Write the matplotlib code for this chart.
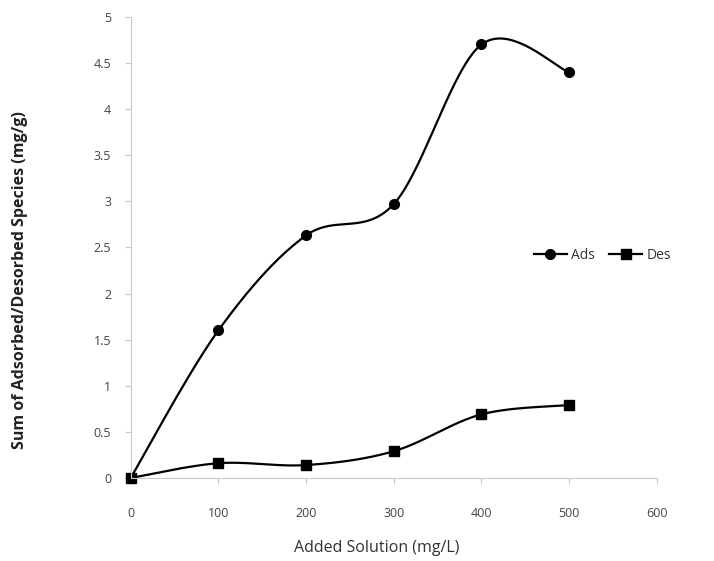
import matplotlib.pyplot as plt
import numpy as np

plt.rcParams['font.family'] = ['Open Sans', 'DejaVu Sans']

# data
added = [0, 100, 200, 300, 400, 500]
ads = [0, 1.6, 2.63, 2.97, 4.7, 4.4]
des = [0, 0.16, 0.14, 0.29, 0.69, 0.79]

x_ticks = [0, 100, 200, 300, 400, 500, 600]
y_ticks = [0, 0.5, 1, 1.5, 2, 2.5, 3, 3.5, 4, 4.5, 5]
y_tick_labels = ['0', '0.5', '1', '1.5', '2', '2.5', '3', '3.5', '4', '4.5', '5']


def smooth(xs, ys, steps=40):
    # Excel-like smoothed line: cubic bezier segments with catmull-rom tangents
    p = np.column_stack([xs, ys]).astype(float)
    out = [p[0]]
    t = np.linspace(0, 1, steps)[1:, None]
    for i in range(len(p) - 1):
        p0 = p[max(i - 1, 0)]
        p1 = p[i]
        p2 = p[i + 1]
        p3 = p[min(i + 2, len(p) - 1)]
        c1 = p1 + (p2 - p0) / 6
        c2 = p2 - (p3 - p1) / 6
        seg = ((1 - t) ** 3) * p1 + 3 * ((1 - t) ** 2) * t * c1 \
            + 3 * (1 - t) * t ** 2 * c2 + t ** 3 * p2
        out.extend(seg)
    out = np.array(out)
    return out[:, 0], out[:, 1]


fig = plt.figure(figsize=(7.14, 5.61), dpi=100)
ax = fig.add_axes([0.183, 0.148, 0.737, 0.822])

sx, sy = smooth(added, ads)
ax.plot(sx, sy, color='black', lw=1.6)
ax.plot(added, ads, 'o', color='black', ms=7)
sx, sy = smooth(added, des)
ax.plot(sx, sy, color='black', lw=1.6)
ax.plot(added, des, 's', color='black', ms=7)

# legend handles
ax.plot([], [], '-o', color='black', lw=1.6, ms=7, label='Ads')
ax.plot([], [], '-s', color='black', lw=1.6, ms=7, label='Des')
ax.legend(loc='center left', bbox_to_anchor=(0.73, 0.545), bbox_transform=fig.transFigure,
          ncol=2, frameon=False, fontsize=10, handlelength=2.4, handletextpad=0.3,
          columnspacing=1.0, labelcolor='#333333')

ax.set_xlim(0, 600)
ax.set_ylim(0, 5)
ax.set_xticks(x_ticks)
ax.set_yticks(y_ticks)
ax.set_yticklabels(y_tick_labels)
ax.spines['top'].set_visible(False)
ax.spines['right'].set_visible(False)
ax.spines['left'].set_color('#c8c8c8')
ax.spines['bottom'].set_color('#c8c8c8')
ax.tick_params(colors='#c8c8c8', labelcolor='#444444', labelsize=9, length=4)
ax.tick_params(axis='x', pad=17)
ax.tick_params(axis='y', pad=10)
for ln in ax.lines:
    ln.set_clip_on(False)

ax.set_xlabel('Added Solution (mg/L)', fontsize=11.5, color='#333333')
ax.set_ylabel('Sum of Adsorbed/Desorbed Species (mg/g)', fontsize=11.5, color='#222222',
              fontweight='bold')
ax.xaxis.set_label_coords(0.468, -0.152)
ax.yaxis.set_label_coords(-0.211, 0.43)
ax.xaxis.label.set_va('center')
ax.yaxis.label.set_va('center')

fig.savefig('out.png')
